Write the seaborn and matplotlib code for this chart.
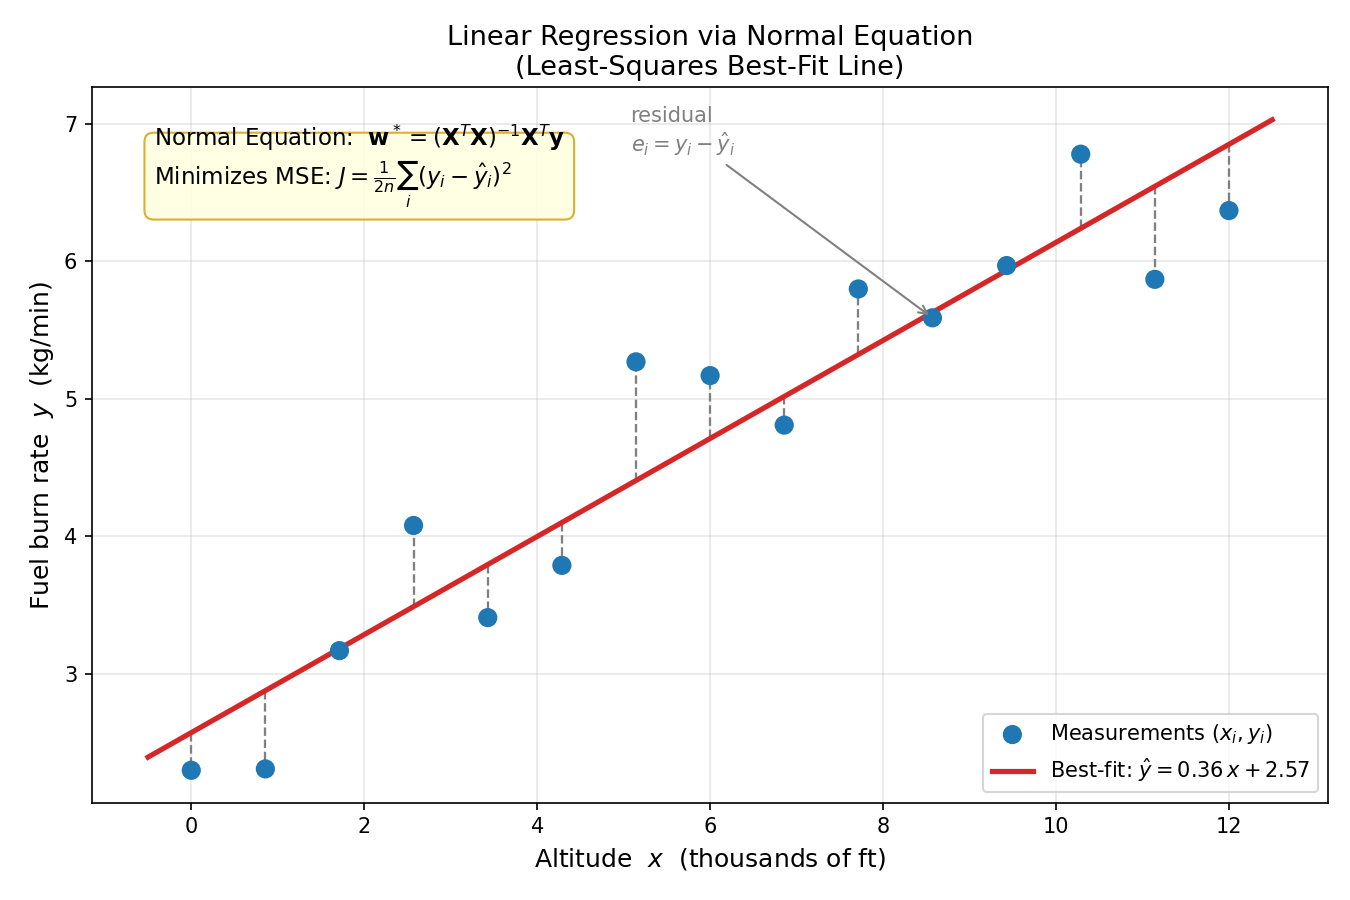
import numpy as np
import matplotlib
matplotlib.use("Agg")
import matplotlib.pyplot as plt
import seaborn as sns

# ── data ──────────────────────────────────────────────────────────────────────
altitude = [0.0, 0.857, 1.714, 2.571, 3.429, 4.286, 5.143, 6.0,
            6.857, 7.714, 8.571, 9.429, 10.286, 11.143, 12.0]
fuel_rate = [2.30, 2.31, 3.17, 4.08, 3.41, 3.79, 5.27, 5.17,
             4.81, 5.80, 5.59, 5.97, 6.78, 5.87, 6.37]
line_span = [-0.5, 12.5]
annotated_idx = 10

x = np.array(altitude)
y = np.array(fuel_rate)

# ── normal equation fit ───────────────────────────────────────────────────────
X = np.column_stack([np.ones_like(x), x])
w = np.linalg.inv(X.T @ X) @ X.T @ y
b0, b1 = w
y_hat = X @ w

x_line = np.array(line_span)
y_line = b0 + b1 * x_line

# ── plot ──────────────────────────────────────────────────────────────────────
fig, ax = plt.subplots(figsize=(9, 6), dpi=150)

ax.vlines(x, y_hat, y, colors="gray", linestyles="--", linewidth=1.1, zorder=2)
sns.lineplot(x=x_line, y=y_line, color="#d62728", linewidth=2.5,
             label=rf"Best-fit: $\hat{{y}} = {b1:.2f}\,x + {b0:.2f}$",
             ax=ax, zorder=2)
sns.scatterplot(x=x, y=y, s=85, color="#1f77b4", edgecolor="none",
                label=r"Measurements $(x_i, y_i)$",
                ax=ax, zorder=3)

ax.annotate("residual\n" + r"$e_i = y_i - \hat{y}_i$",
            xy=(x[annotated_idx], y[annotated_idx]),
            xytext=(5.08, 6.75), va="bottom", ha="left",
            fontsize=10, color="gray",
            arrowprops=dict(arrowstyle="->", color="gray", lw=1))

ax.text(0.05, 0.95,
        r"Normal Equation:  $\mathbf{w}^* = (\mathbf{X}^T\mathbf{X})^{-1}\mathbf{X}^T\mathbf{y}$"
        "\n"
        r"Minimizes MSE: $J = \frac{1}{2n}\sum_i (y_i - \hat{y}_i)^2$",
        transform=ax.transAxes, va="top", ha="left", fontsize=11,
        bbox=dict(boxstyle="round,pad=0.4", facecolor="#ffffe0",
                  edgecolor="#daa520", alpha=0.9))

ax.set_title("Linear Regression via Normal Equation\n(Least-Squares Best-Fit Line)",
             fontsize=13)
ax.set_xlabel(r"Altitude  $x$  (thousands of ft)", fontsize=12)
ax.set_ylabel(r"Fuel burn rate  $y$  (kg/min)", fontsize=12)
ax.grid(True, alpha=0.3)

handles, labels = ax.get_legend_handles_labels()
ax.legend(handles[::-1], labels[::-1], loc="lower right", fontsize=10)

fig.subplots_adjust(left=0.068, right=0.984, top=0.903, bottom=0.108)
plt.savefig("out.png", dpi=150)
